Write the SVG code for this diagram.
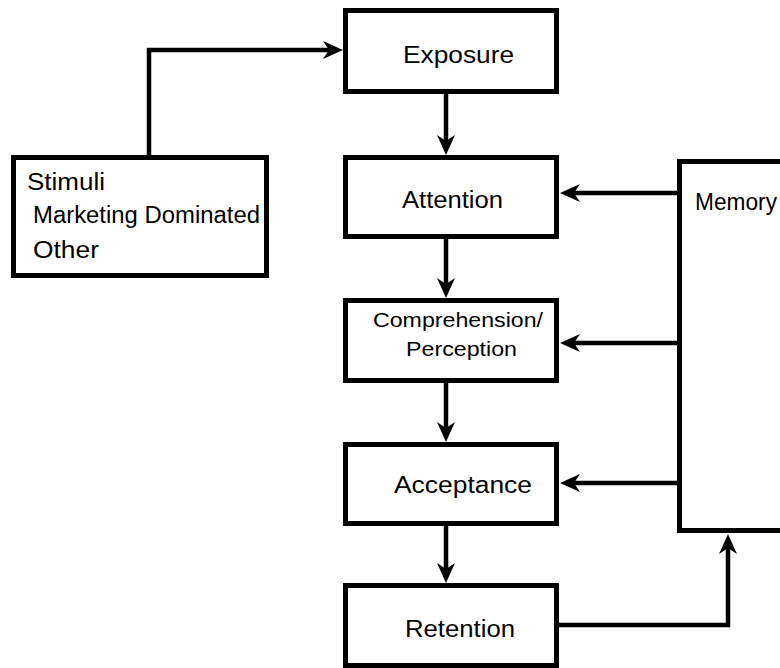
<svg xmlns="http://www.w3.org/2000/svg" width="780" height="668" viewBox="0 0 780 668">
  <style>
    .box { fill: #ffffff; stroke: #000000; stroke-width: 5; }
    .lbl { font-family: "Liberation Sans", Arial, sans-serif; font-size: 23px; fill: #000000; }
    .sm { font-size: 21px; }
    .link { fill: none; stroke: #000000; stroke-width: 4.5; stroke-linejoin: miter; }
  </style>
  <defs>
    <marker id="arrow" viewBox="0 -11 22 22" refX="8" refY="0" markerWidth="22" markerHeight="22" markerUnits="userSpaceOnUse" orient="auto">
      <path d="M0,-9 L20,0 L0,9 L6,0 Z" fill="#000000"/>
    </marker>
  </defs>
  <rect width="780" height="668" fill="#ffffff"/>

  <!-- connectors -->
  <g id="connectors">
    <path class="link" d="M149,157 V50 H331" marker-end="url(#arrow)"/>
    <path class="link" d="M446,94 V143" marker-end="url(#arrow)"/>
    <path class="link" d="M446,239 V286" marker-end="url(#arrow)"/>
    <path class="link" d="M446,383 V430" marker-end="url(#arrow)"/>
    <path class="link" d="M446,526 V571" marker-end="url(#arrow)"/>
    <path class="link" d="M678,193 H572" marker-end="url(#arrow)"/>
    <path class="link" d="M678,343 H572" marker-end="url(#arrow)"/>
    <path class="link" d="M678,483 H572" marker-end="url(#arrow)"/>
    <path class="link" d="M559,625 H728 V546" marker-end="url(#arrow)"/>
  </g>

  <g id="stimuli">
    <rect class="box" x="13.5" y="157.5" width="253" height="118"/>
    <text class="lbl" x="27" y="190" textLength="78" lengthAdjust="spacingAndGlyphs">Stimuli</text>
    <text class="lbl" x="33" y="223" textLength="227" lengthAdjust="spacingAndGlyphs">Marketing Dominated</text>
    <text class="lbl" x="33" y="258" textLength="66" lengthAdjust="spacingAndGlyphs">Other</text>
  </g>

  <g id="exposure">
    <rect class="box" x="345.5" y="10.5" width="211" height="81"/>
    <text class="lbl" x="403" y="63" textLength="111" lengthAdjust="spacingAndGlyphs">Exposure</text>
  </g>

  <g id="attention">
    <rect class="box" x="345.5" y="157.5" width="211" height="79"/>
    <text class="lbl" x="402" y="208" textLength="101" lengthAdjust="spacingAndGlyphs">Attention</text>
  </g>

  <g id="comprehension">
    <rect class="box" x="345.5" y="300.5" width="211" height="80"/>
    <text class="lbl sm" x="373" y="327" textLength="170" lengthAdjust="spacingAndGlyphs">Comprehension/</text>
    <text class="lbl sm" x="406" y="356" textLength="111" lengthAdjust="spacingAndGlyphs">Perception</text>
  </g>

  <g id="acceptance">
    <rect class="box" x="345.5" y="444.5" width="211" height="79"/>
    <text class="lbl" x="394" y="493" textLength="138" lengthAdjust="spacingAndGlyphs">Acceptance</text>
  </g>

  <g id="retention">
    <rect class="box" x="345.5" y="585.5" width="211" height="80"/>
    <text class="lbl" x="405" y="637" textLength="110" lengthAdjust="spacingAndGlyphs">Retention</text>
  </g>

  <g id="memory">
    <rect class="box" x="679.5" y="161.5" width="130" height="369"/>
    <text class="lbl" x="695" y="210" textLength="82" lengthAdjust="spacingAndGlyphs">Memory</text>
  </g>
</svg>
